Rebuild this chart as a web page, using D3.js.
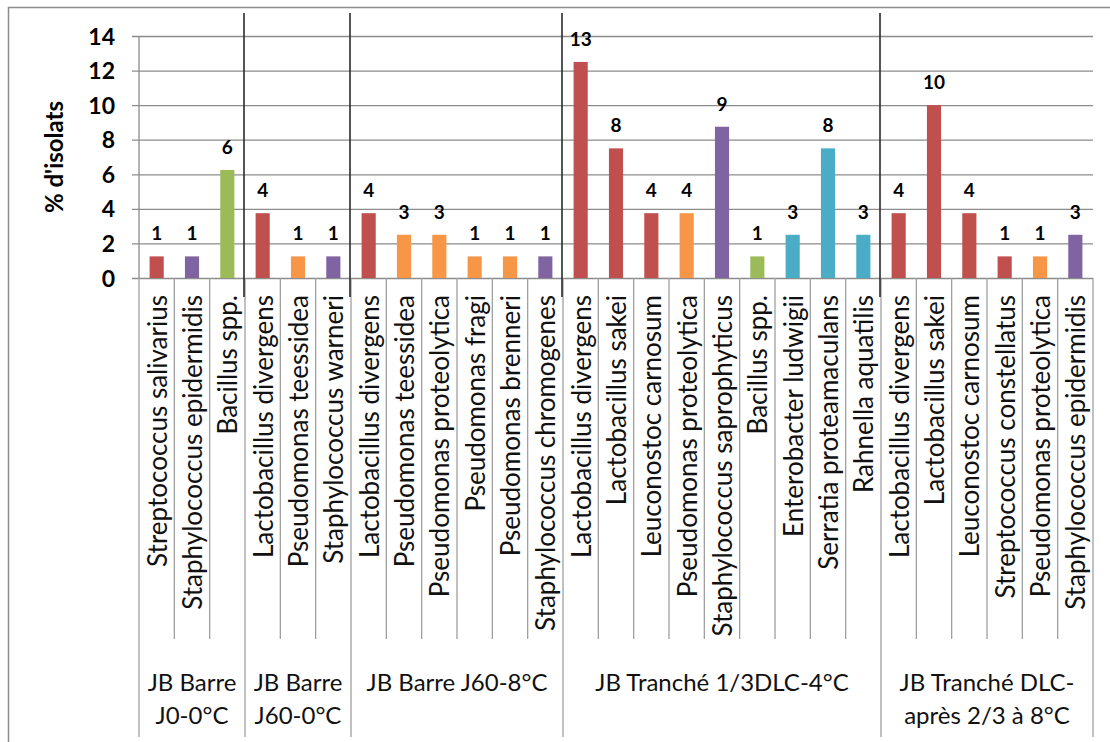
<!DOCTYPE html>
<html>
<head>
<meta charset="utf-8">
<script src="https://cdn.jsdelivr.net/npm/d3@7"></script>
<style>
  html, body { margin: 0; padding: 0; background: #fff; }
  svg { display: block; font-family: Lato, "Open Sans", sans-serif; }
</style>
</head>
<body>
<svg id="chart" width="1110" height="742"></svg>
<script>
// Sample groups (storage condition) and how many species each one holds
const groupLabels = [
  ["JB Barre", "J0-0°C"],
  ["JB Barre", "J60-0°C"],
  ["JB Barre J60-8°C"],
  ["JB Tranché 1/3DLC-4°C"],
  ["JB Tranché DLC-", "après 2/3 à 8°C"]
];
const groupSizes = [3, 3, 6, 9, 6];

// Species identified, in display order
const species = [
  "Streptococcus salivarius", "Staphylococcus epidermidis", "Bacillus spp.",
  "Lactobacillus divergens", "Pseudomonas teessidea", "Staphylococcus warneri",
  "Lactobacillus divergens", "Pseudomonas teessidea", "Pseudomonas proteolytica",
  "Pseudomonas fragi", "Pseudomonas brenneri", "Staphylococcus chromogenes",
  "Lactobacillus divergens", "Lactobacillus sakei", "Leuconostoc carnosum",
  "Pseudomonas proteolytica", "Staphylococcus saprophyticus", "Bacillus spp.",
  "Enterobacter ludwigii", "Serratia proteamaculans", "Rahnella aquatilis",
  "Lactobacillus divergens", "Lactobacillus sakei", "Leuconostoc carnosum",
  "Streptococcus constellatus", "Pseudomonas proteolytica", "Staphylococcus epidermidis"
];

// Percentage of isolates for each species
const percents = [
  1.25, 1.25, 6.25,
  3.75, 1.25, 1.25,
  3.75, 2.5, 2.5, 1.25, 1.25, 1.25,
  12.5, 7.5, 3.75, 3.75, 8.75, 1.25, 2.5, 7.5, 2.5,
  3.75, 10, 3.75, 1.25, 1.25, 2.5
];

// Bacterial family used for the bar colour
const families = [
  "lab", "staph", "bacillus",
  "lab", "pseudo", "staph",
  "lab", "pseudo", "pseudo", "pseudo", "pseudo", "staph",
  "lab", "lab", "lab", "pseudo", "staph", "bacillus", "entero", "entero", "entero",
  "lab", "lab", "lab", "lab", "pseudo", "staph"
];
const familyKeys = ["lab", "staph", "bacillus", "pseudo", "entero"];
const familyColors = ["#C0504D", "#8064A2", "#9BBB59", "#F79646", "#4BACC6"];

const yTicks = [0, 2, 4, 6, 8, 10, 12, 14];
const yTitle = "% d'isolats";

// ---- layout ----
const plotLeft = 139, plotRight = 1093, plotTop = 36, plotBottom = 278;
const catLineEnd = 639, groupLineEnd = 737;

const svg = d3.select("#chart");

const idx = d3.range(species.length);
const x = d3.scaleBand().domain(idx).range([plotLeft, plotRight]).paddingInner(0).paddingOuter(0);
const y = d3.scaleLinear().domain([0, 14]).range([plotBottom, plotTop]);
const color = d3.scaleOrdinal().domain(familyKeys).range(familyColors);

// outer frame
svg.append("rect")
  .attr("x", 8.5).attr("y", 7.5).attr("width", 1120).attr("height", 760)
  .attr("fill", "none").attr("stroke", "#8c8c8c").attr("stroke-width", 1.5);

// horizontal gridlines with the y axis
const yAxis = d3.axisLeft(y).tickValues(yTicks).tickSize(-(plotRight - plotLeft)).tickPadding(0)
  .tickFormat(d3.format("d"));
const gy = svg.append("g").attr("transform", `translate(${plotLeft},0)`).call(yAxis);
gy.select(".domain").remove();
gy.selectAll(".tick line")
  .attr("x1", -7)
  .attr("stroke", "#8c8c8c").attr("stroke-width", 1.3);
gy.selectAll(".tick text")
  .attr("x", -24)
  .attr("dy", "0.35em")
  .attr("font-family", "Lato, 'Open Sans', sans-serif")
  .attr("font-size", 23).attr("font-weight", "bold").attr("fill", "#000");

// y axis line
svg.append("line")
  .attr("x1", plotLeft).attr("x2", plotLeft).attr("y1", plotTop).attr("y2", plotBottom)
  .attr("stroke", "#8c8c8c").attr("stroke-width", 1.3);

// group boundaries (indices where each group starts)
const groupStarts = [];
let acc = 0;
groupSizes.forEach(n => { groupStarts.push(acc); acc += n; });
const isGroupEdge = new Set([...groupStarts, species.length]);

// category separators below the axis
const edges = d3.range(species.length + 1);
svg.append("g").selectAll("line").data(edges).join("line")
  .attr("x1", i => i < species.length ? x(i) : plotRight)
  .attr("x2", i => i < species.length ? x(i) : plotRight)
  .attr("y1", plotBottom)
  .attr("y2", i => isGroupEdge.has(i) ? groupLineEnd : catLineEnd)
  .attr("stroke", "#a0a0a0").attr("stroke-width", 1.3);

// bars
const barW = x.bandwidth() * 0.4;
svg.append("g").selectAll("rect").data(idx).join("rect")
  .attr("x", i => x(i) + (x.bandwidth() - barW) / 2)
  .attr("y", i => y(percents[i]))
  .attr("width", barW)
  .attr("height", i => y(0) - y(percents[i]))
  .attr("fill", i => color(families[i]));

// value labels
svg.append("g").selectAll("text").data(idx).join("text")
  .attr("x", i => x(i) + x.bandwidth() / 2)
  .attr("y", i => y(percents[i]) - 16)
  .attr("text-anchor", "middle")
  .attr("font-size", 19).attr("font-weight", "bold").attr("fill", "#000")
  .text(i => Math.round(percents[i]));

// dark separators between sample groups
const innerEdges = groupStarts.slice(1);
svg.append("g").selectAll("line").data(innerEdges).join("line")
  .attr("x1", i => x(i) - 1).attr("x2", i => x(i) - 1)
  .attr("y1", 13).attr("y2", 297)
  .attr("stroke", "#2b2b2b").attr("stroke-width", 1.6);

// species labels (rotated)
svg.append("g").selectAll("text").data(idx).join("text")
  .attr("transform", i => `translate(${x(i) + x.bandwidth() / 2 + 1},295) rotate(-90)`)
  .attr("text-anchor", "end")
  .attr("dy", "0.35em")
  .attr("font-size", 26).attr("fill", "#111")
  .text(i => species[i]);

// group labels
groupLabels.forEach((lines, g) => {
  const cx = (x(groupStarts[g]) + (g + 1 < groupStarts.length ? x(groupStarts[g + 1]) : plotRight)) / 2;
  const t = svg.append("text")
    .attr("x", cx).attr("y", 691)
    .attr("text-anchor", "middle")
    .attr("font-size", 24).attr("fill", "#111");
  lines.forEach((ln, k) => {
    t.append("tspan").attr("x", cx).attr("dy", k === 0 ? 0 : 33).text(ln);
  });
});

// y axis title
svg.append("text")
  .attr("transform", "translate(55,157) rotate(-90)")
  .attr("text-anchor", "middle")
  .attr("dy", "0.35em")
  .attr("font-size", 24).attr("font-weight", "bold").attr("fill", "#000")
  .text(yTitle);
</script>
</body>
</html>
